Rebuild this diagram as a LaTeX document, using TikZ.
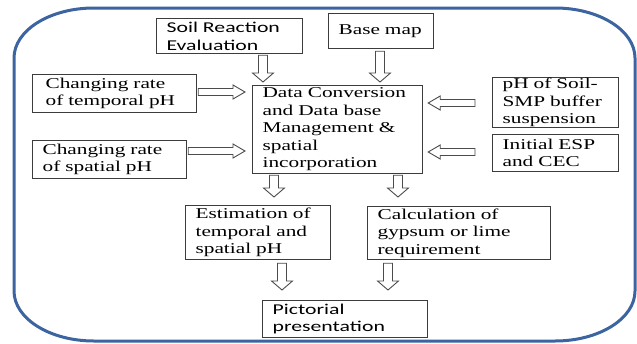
\documentclass[tikz,border=0pt]{standalone}
\usepackage{fontspec}
\setmainfont{Liberation Serif}[FakeStretch=1.42]
\newfontfamily\calib{Carlito}[FakeStretch=1.45]
\usetikzlibrary{calc}
\definecolor{framecol}{RGB}{59,100,160}
\definecolor{boxgray}{RGB}{60,60,60}
\definecolor{arrgray}{RGB}{75,75,75}
\newcommand\DnBlk[2]{\draw[barrow] let \p1=(#1), \p2=(#2) in
  (\x1-4.5pt,\y1) -- (\x1+4.5pt,\y1) -- (\x1+4.5pt,\y2+9pt) -- (\x1+10.5pt,\y2+9pt)
  -- (\x1,\y2) -- (\x1-10.5pt,\y2+9pt) -- (\x1-4.5pt,\y2+9pt) -- cycle;}
\newcommand\RtBlk[2]{\draw[barrow] let \p1=(#1), \p2=(#2) in
  (\x1,\y1+3.5pt) -- (\x2-12pt,\y1+3.5pt) -- (\x2-12pt,\y1+7pt) -- (\x2,\y1)
  -- (\x2-12pt,\y1-7pt) -- (\x2-12pt,\y1-3.5pt) -- (\x1,\y1-3.5pt) -- cycle;}
\newcommand\LfBlk[2]{\draw[barrow] let \p1=(#1), \p2=(#2) in
  (\x1,\y1+3.5pt) -- (\x2+12pt,\y1+3.5pt) -- (\x2+12pt,\y1+7pt) -- (\x2,\y1)
  -- (\x2+12pt,\y1-7pt) -- (\x2+12pt,\y1-3.5pt) -- (\x1,\y1-3.5pt) -- cycle;}
\begin{document}
\begin{tikzpicture}[x=1pt,y=-1pt,
  frame/.style={draw=framecol,line width=3pt},
  box/.style={draw=boxgray,line width=1.2pt,anchor=north west,align=left,
    inner xsep=10pt,inner ysep=0pt,
    font=\fontsize{15}{17.5}\selectfont},
  barrow/.style={draw=arrgray,line width=0.9pt,fill=white}]
\useasboundingbox (0,0) rectangle (637,343);
% outer frame
\draw[frame] (94,8) -- (555,8)
  arc[start angle=270,end angle=360,x radius=80,y radius=50] -- (635,291)
  arc[start angle=0,end angle=90,x radius=80,y radius=50] -- (94,341)
  arc[start angle=90,end angle=180,x radius=80,y radius=50] -- (14,58)
  arc[start angle=180,end angle=270,x radius=80,y radius=50] -- cycle;
% boxes
\node[box,text width=126pt,minimum height=35pt] (sre) at (156,18) {\calib Soil~Reaction\\\calib Evaluation};
\node[box,text width=85pt,minimum height=35pt] (base) at (328,13) {Base~map};
\node[box,inner xsep=13pt,text width=138pt,minimum height=38pt] (tmp) at (32,74) {Changing~rate\\of~temporal~pH};
\node[box,text width=150pt,minimum height=88pt] (dc) at (252,85) {Data~Conversion\\and~Data~base\\Management~\&\\spatial\\incorporation};
\node[box,text width=106pt,minimum height=50pt] (smp) at (492,77) {pH~of~Soil-\\SMP~buffer\\suspension};
\node[box,text width=106pt,minimum height=37pt] (esp) at (492,134) {Initial~ESP\\and~CEC};
\node[box,text width=134pt,minimum height=38pt] (spa) at (32,140) {Changing~rate\\of~spatial~pH};
\node[box,text width=125pt,minimum height=54pt] (est) at (185,205) {Estimation~of\\temporal~and\\spatial~pH};
\node[box,text width=163pt,minimum height=53pt] (calc) at (367,206) {Calculation~of\\gypsum~or~lime\\requirement};
\node[box,text width=145pt,minimum height=37pt] (pic) at (262,300) {\calib Pictorial\\\calib presentation};
% guide coordinates
\coordinate (ax1) at (263,0);
\coordinate (ax2) at (380,0);
\coordinate (ax3) at (274,0);
\coordinate (ax4) at (398,0);
\coordinate (ax5) at (282,0);
\coordinate (ax6) at (388,0);
\coordinate (ay1) at (0,92);
\coordinate (ay2) at (0,151);
\coordinate (ay3) at (0,103);
\coordinate (ay4) at (0,152);
% arrows
\DnBlk{$(ax1 |- sre.south)+(0,1)$}{$(ax1 |- dc.north)+(0,-3)$}
\DnBlk{$(ax2 |- base.south)+(0,2)$}{$(ax2 |- dc.north)+(0,-3)$}
\RtBlk{$(tmp.east |- ay1)+(1,0)$}{$(dc.west |- ay1)+(-7,0)$}
\RtBlk{$(spa.east |- ay2)+(1,0)$}{$(dc.west |- ay2)+(-7,0)$}
\LfBlk{$(smp.west |- ay3)+(-17,0)$}{$(dc.east |- ay3)+(5,0)$}
\LfBlk{$(esp.west |- ay4)+(-17,0)$}{$(dc.east |- ay4)+(5,0)$}
\DnBlk{$(ax3 |- dc.south)+(0,1)$}{$(ax3 |- est.north)+(0,-8)$}
\DnBlk{$(ax4 |- dc.south)+(0,1)$}{$(ax4 |- calc.north)+(0,-9)$}
\DnBlk{$(ax5 |- est.south)+(0,3)$}{$(ax5 |- pic.north)+(0,-10)$}
\DnBlk{$(ax6 |- calc.south)+(0,3)$}{$(ax6 |- pic.north)+(0,-10)$}
\end{tikzpicture}
\end{document}
